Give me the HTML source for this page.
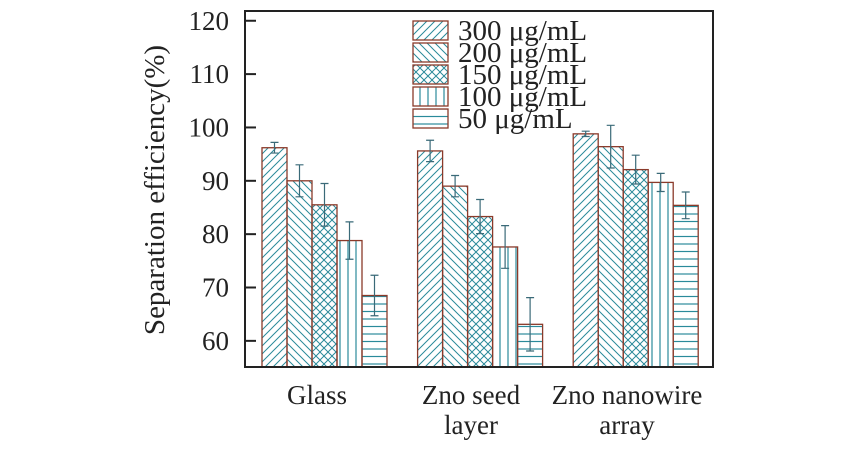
<!DOCTYPE html>
<html><head><meta charset="utf-8"><style>
html,body{margin:0;padding:0;background:#fff;width:850px;height:470px;overflow:hidden}
svg text{font-family:"Liberation Serif",serif;fill:#222}
</style></head><body>
<svg id="chart" width="850" height="470" viewBox="0 0 850 470">
<defs>
<pattern id="p0" patternUnits="userSpaceOnUse" width="8" height="8"><path d="M-2,2 L2,-2 M0,8 L8,0 M6,10 L10,6" stroke="#2a8a9a" stroke-width="1"/></pattern>
<pattern id="p1" patternUnits="userSpaceOnUse" width="8" height="8"><path d="M-2,6 L2,10 M0,0 L8,8 M6,-2 L10,2" stroke="#2a8a9a" stroke-width="1"/></pattern>
<pattern id="p2" patternUnits="userSpaceOnUse" width="8" height="8"><path d="M0,0 L8,8 M0,8 L8,0" stroke="#2a8a9a" stroke-width="1"/></pattern>
<pattern id="p3" patternUnits="userSpaceOnUse" width="8" height="8"><path d="M4,0 L4,8" stroke="#2a8a9a" stroke-width="1.2"/></pattern>
<pattern id="p4" patternUnits="userSpaceOnUse" width="8" height="7.5"><path d="M0,4 L8,4" stroke="#2a8a9a" stroke-width="1.2"/></pattern>
</defs>
<g id="plot"></g>
<rect x="245" y="11" width="468" height="356" fill="none" stroke="#222" stroke-width="2"/>
<text transform="translate(164,190) rotate(-90)" text-anchor="middle" font-size="29">Separation efficiency(%)</text>
<text x="317" y="404" text-anchor="middle" font-size="27">Glass</text>
<text x="471" y="404" text-anchor="middle" font-size="27">Zno seed</text>
<text x="471" y="434" text-anchor="middle" font-size="27">layer</text>
<text x="627" y="404" text-anchor="middle" font-size="27">Zno nanowire</text>
<text x="627" y="434" text-anchor="middle" font-size="27">array</text>
</svg>
<script>
const categories = ["Glass", "Zno seed layer", "Zno nanowire array"];
const seriesNames = ["300 μg/mL", "200 μg/mL", "150 μg/mL", "100 μg/mL", "50 μg/mL"];
const s300 = [96.2, 95.6, 98.8];
const s200 = [90.0, 89.0, 96.4];
const s150 = [85.5, 83.3, 92.1];
const s100 = [78.8, 77.6, 89.7];
const s50 = [68.5, 63.1, 85.4];
const e300 = [1.0, 2.0, 0.5];
const e200 = [3.0, 2.0, 4.0];
const e150 = [4.0, 3.2, 2.7];
const e100 = [3.5, 4.0, 1.7];
const e50 = [3.8, 5.0, 2.5];
const yTicks = [60, 70, 80, 90, 100, 110, 120];

const series = [s300, s200, s150, s100, s50];
const errs = [e300, e200, e150, e100, e50];
const NS = "http://www.w3.org/2000/svg";
const g = document.getElementById("plot");
const Y0 = 367, YMIN = 55.1, PPU = 5.335;
function y(v){ return Y0 - (v - YMIN) * PPU; }
function x(ci, si){ return 262 + ci * 155.6 + si * 25; }
const BW = 25;
function mk(tag, attrs){ const e = document.createElementNS(NS, tag); for (const k in attrs) e.setAttribute(k, attrs[k]); g.appendChild(e); return e; }

yTicks.forEach(t => {
  const l = mk("line", {x1:245, x2:256, y1:y(t), y2:y(t), stroke:"#222", "stroke-width":2});
  
  
  const tx = mk("text", {x:229, y:y(t)+9, "text-anchor":"end", "font-size":27});
  tx.textContent = t;
  
  
});

series.forEach((vals, si) => {
  vals.forEach((v, ci) => {
    const r = mk("rect", {x:x(ci,si), y:y(v), width:BW, height:Y0-y(v), fill:"url(#p"+si+")", stroke:"#8a3a2a", "stroke-width":1.3});
    
    
    const cx = x(ci,si) + BW/2, e = errs[si][ci];
    const eb = mk("path", {d:`M${cx},${y(v+e)} V${y(v-e)} M${cx-4},${y(v+e)} H${cx+4} M${cx-4},${y(v-e)} H${cx+4}`, stroke:"#3a6a78", "stroke-width":1.2, fill:"none"});
    
    
  });
});

seriesNames.forEach((n, si) => {
  const ty = 21 + si * 22;
  const r = mk("rect", {x:413, y:ty, width:35, height:19, fill:"url(#p"+si+")", stroke:"#8a3a2a", "stroke-width":1.3});
  
  
  const t = mk("text", {x:458, y:ty+19, "font-size":29});
  t.textContent = n;
  
  
});
</script>
</body></html>
